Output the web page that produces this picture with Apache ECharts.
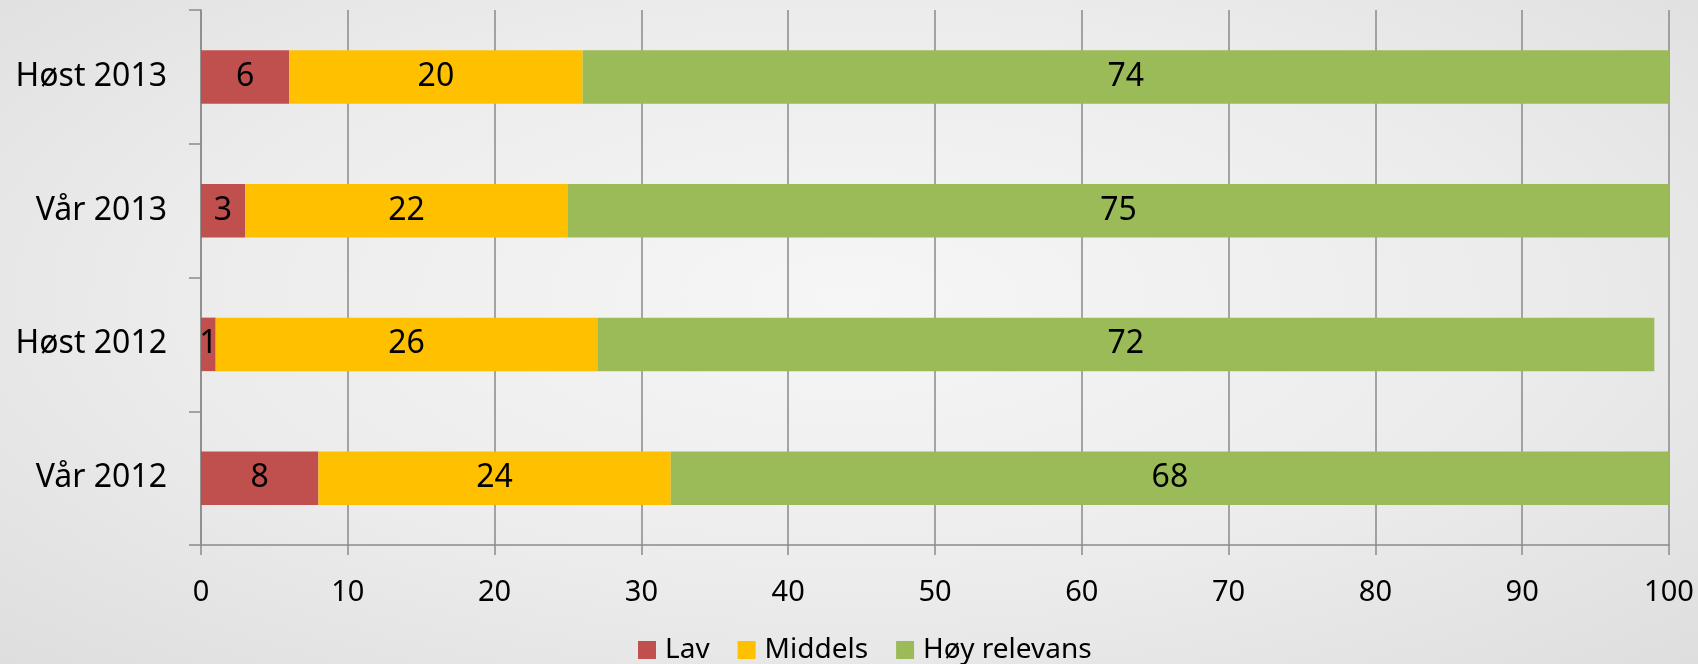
<!DOCTYPE html>
<html><head><meta charset="utf-8">
<script src="https://cdn.jsdelivr.net/npm/echarts@6/dist/echarts.min.js"></script>
<style>
html,body{margin:0;padding:0;}
#c{width:1698px;height:664px;background:radial-gradient(ellipse at 50% 45%, #f6f6f6 0%, #ececec 55%, #dedede 100%);}
</style></head>
<body><div id="c"></div>
<script>
const categories = ["Vår 2012","Høst 2012","Vår 2013","Høst 2013"];
const lav = [8, 1, 3, 6];
const middels = [24, 26, 22, 20];
const hoy = [68, 72, 75, 74];
const seriesNames = ["Lav","Middels","Høy relevans"];
const xTicks = [0,10,20,30,40,50,60,70,80,90,100];

const FONT = "'Noto Sans', sans-serif";
const chart = echarts.init(document.getElementById('c'), null, {renderer:'canvas'});
const colors = ['#C0504D','#FFC000','#9BBB59'];
const mk = (name, data, i) => ({
  name, type:'bar', stack:'s', data, barCategoryGap:'60%',
  itemStyle:{color:colors[i]},
  label:{show:true, position:'inside', color:'#000', fontSize:32, fontFamily:FONT},
  emphasis:{disabled:true}
});
chart.setOption({
  animation:false,
  textStyle:{fontFamily:FONT},
  grid:{left:201, right:29, top:10, bottom:119, containLabel:false},
  xAxis:{type:'value', min:xTicks[0], max:xTicks[xTicks.length-1], interval:10,
    axisLine:{show:true, lineStyle:{color:'#8a8a8a', width:1.5}},
    axisTick:{show:true, length:10, lineStyle:{color:'#8a8a8a', width:1.5}},
    splitLine:{show:true, lineStyle:{color:'#8a8a8a', width:1.5}},
    axisLabel:{color:'#000', fontSize:29, margin:33, fontFamily:FONT}
  },
  yAxis:{type:'category', data:categories,
    axisLine:{show:true, lineStyle:{color:'#8a8a8a', width:1.5}},
    axisTick:{show:true, length:12, lineStyle:{color:'#8a8a8a', width:1.5}},
    axisLabel:{color:'#000', fontSize:32, margin:34, fontFamily:FONT},
    splitLine:{show:false}
  },
  legend:{top:636, left:638, padding:0, itemWidth:18, itemHeight:18, itemGap:28, icon:'rect',
    textStyle:{color:'#000', fontSize:28, fontFamily:FONT, padding:[0,0,0,4]}, data:seriesNames},
  series:[mk(seriesNames[0], lav, 0), mk(seriesNames[1], middels, 1), mk(seriesNames[2], hoy, 2)]
});
</script></body></html>
